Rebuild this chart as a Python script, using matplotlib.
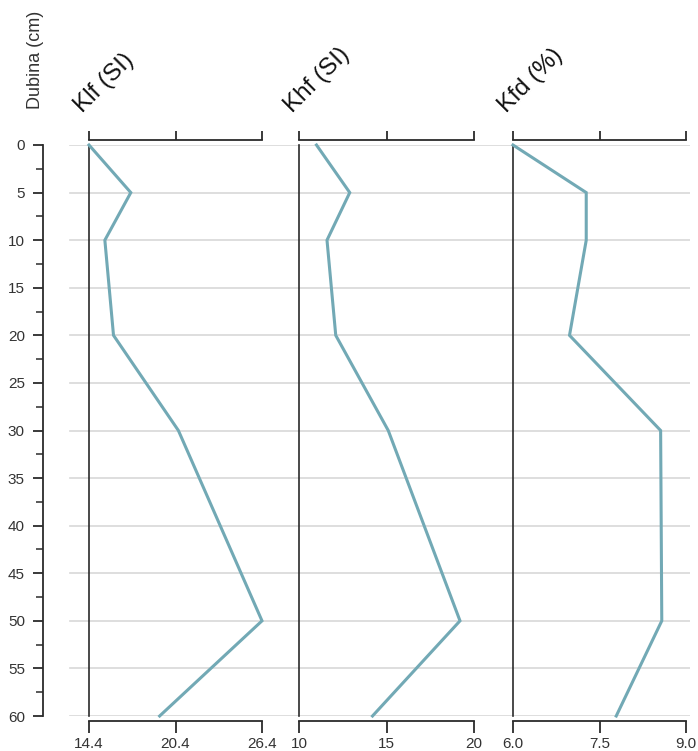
import numpy as np
import matplotlib
matplotlib.use('Agg')
import matplotlib.pyplot as plt

plt.rcParams['font.family'] = ['Liberation Sans', 'DejaVu Sans']

# podaci
dubina = [0, 5, 10, 20, 30, 50, 60]
klf = [14.4, 17.3, 15.5, 16.1, 20.6, 26.4, 19.3]
khf = [11.0, 12.9, 11.6, 12.1, 15.1, 19.2, 14.2]
kfd = [6.0, 7.27, 7.27, 6.98, 8.56, 8.58, 7.79]

nazivi = ['Klf (SI)', 'Khf (SI)', 'Kfd (%)']
granice = [(14.4, 26.4), (10, 20), (6.0, 9.0)]
tickovi = [[14.4, 20.4, 26.4], [10, 15, 20], [6.0, 7.5, 9.0]]
tick_labele = [['14.4', '20.4', '26.4'], ['10', '15', '20'], ['6.0', '7.5', '9.0']]

W, H = 698, 751
fig = plt.figure(figsize=(W / 100, H / 100), dpi=100)
fig.patch.set_facecolor('white')

y_top, y_bot = 145, 716
boja_linije = '#72a9b5'
boja_osi = '#2b2b2b'


def px_ax(x0, x1):
    return [x0 / W, 1 - y_bot / H, (x1 - x0) / W, (y_bot - y_top) / H]


# pozadina s horizontalnim linijama + os dubine
bg = fig.add_axes(px_ax(43, 690))
bg.set_xlim(0, 1)
bg.set_ylim(60, 0)
for d in range(0, 61, 5):
    bg.axhline(d, xmin=(70 - 43) / (690 - 43), xmax=1, color='#d8d8d8', lw=1.2, zorder=0)
for s in ['top', 'right', 'bottom']:
    bg.spines[s].set_visible(False)
bg.spines['left'].set_color(boja_osi)
bg.spines['left'].set_linewidth(1.3)
bg.set_xticks([])
bg.set_yticks(np.arange(0, 61, 5))
bg.set_yticks(np.arange(2.5, 60, 5), minor=True)
bg.tick_params(axis='y', which='major', length=7, width=1.3, color=boja_osi,
               labelsize=11, labelcolor='#333333', pad=6)
bg.tick_params(axis='y', which='minor', length=5, width=1.1, color=boja_osi)
bg.patch.set_alpha(0)

fig.text(35 / W, 1 - 60 / H, 'Dubina (cm)', rotation=90, ha='center', va='center',
         fontsize=13, color='#333333')

paneli = [(89, 262), (299, 474), (513, 686)]
for i, (x0, x1) in enumerate(paneli):
    ax = fig.add_axes(px_ax(x0, x1))
    ax.patch.set_alpha(0)
    vrijednosti = [klf, khf, kfd][i]
    ax.plot(vrijednosti, dubina, color=boja_linije, lw=2.2, solid_joinstyle='miter',
            clip_on=False, zorder=3)
    ax.set_xlim(*granice[i])
    ax.set_ylim(60, 0)
    ax.set_yticks([])
    ax.spines['right'].set_visible(False)
    ax.spines['left'].set_color(boja_osi)
    ax.spines['left'].set_linewidth(1.2)
    for s in ['top', 'bottom']:
        ax.spines[s].set_position(('outward', 3.6))
        ax.spines[s].set_color(boja_osi)
        ax.spines[s].set_linewidth(1.3)
    ax.set_xticks(tickovi[i])
    ax.set_xticklabels(tick_labele[i])
    ax.tick_params(axis='x', which='both', top=True, bottom=True, labeltop=False,
                   labelbottom=True, direction='out', length=8.5, width=1.3,
                   color=boja_osi, labelsize=11, labelcolor='#333333', pad=3)
    # gornji tickovi su kraci
    for t in ax.xaxis.get_major_ticks():
        t.tick2line.set_markersize(6.5)
    fig.text((x0 - 7) / W, 1 - 113 / H, nazivi[i], rotation=45, rotation_mode='anchor',
             ha='left', va='baseline', fontsize=17.5, color='#111111')

fig.savefig('out.png', dpi=100, facecolor='white')
